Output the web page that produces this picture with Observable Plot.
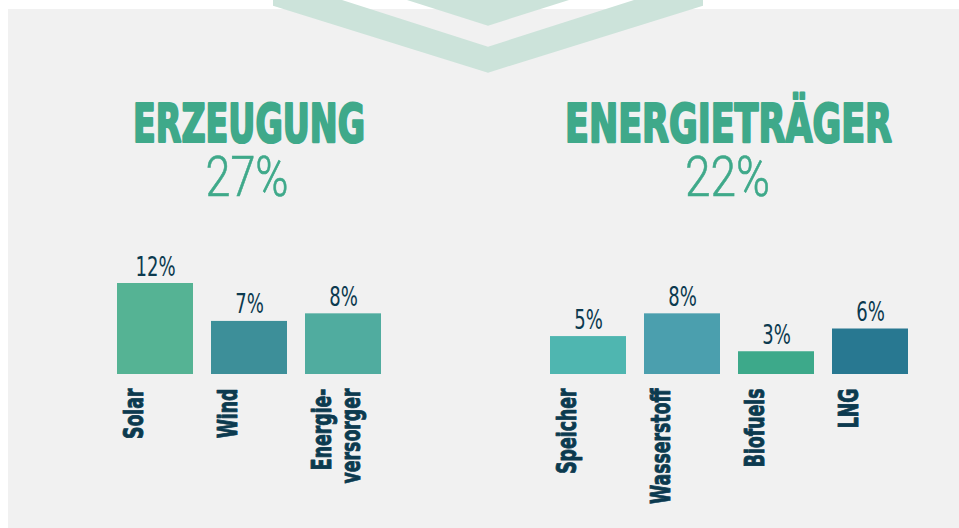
<!DOCTYPE html>
<html>
<head>
<meta charset="utf-8">
<script src="https://cdn.jsdelivr.net/npm/d3@7"></script>
<script src="https://cdn.jsdelivr.net/npm/@observablehq/plot@0.6"></script>
<style>
  html, body { margin: 0; padding: 0; background: #ffffff; }
  #root { position: relative; width: 959px; height: 528px; overflow: hidden; }
  #bg { position: absolute; left: 8px; top: 9px; right: 0; bottom: 0; background: #f1f1f1; }
  .layer { position: absolute; top: 0; }
  svg.plot, .layer svg { overflow: visible; }
</style>
</head>
<body>
<div id="root">
  <div id="bg"></div>
  <svg class="layer" id="chevron" width="959" height="100" style="left:0">
    <polygon points="273,0 342,0 488,46.7 634,0 703,0 703,5.7 488,72.7 273,5.7" fill="#cce3da"/>
    <polygon points="407,0 569,0 488,25.7" fill="#cce3da"/>
  </svg>
  <svg class="layer" id="titles" width="959" height="220" style="left:0"></svg>
  <div class="layer" id="left" style="left:0"></div>
  <div class="layer" id="right" style="left:480px"></div>
</div>
<script>
// ---- data ----
const groupTitles = ["ERZEUGUNG", "ENERGIETRÄGER"];
const groupTotals = ["27%", "22%"];

const erzeugungCategories = ["Solar", "Wind", "Energie-\nversorger"];
const erzeugungValues = [12, 7, 8];

const traegerCategories = ["Speicher", "Wasserstoff", "Biofuels", "LNG"];
const traegerValues = [5, 8, 3, 6];

// ---- styles ----
const erzeugungColors = ["#55b394", "#3d8f99", "#50ac9f"];
const traegerColors = ["#4fb6b0", "#4b9fae", "#3da98a", "#287891"];
const green = "#3fa98a";
const navy = "#0c3a4f";
const narrow = "'Liberation Sans Narrow', 'DejaVu Sans Condensed', 'Arial Narrow', sans-serif";

// ---- titles ----
const titleLayout = [
  {cx: 249, w: 232, tw: 83, tcx: 247},
  {cx: 728.5, w: 327, tw: 85, tcx: 727.5}
];
const tsvg = d3.select("#titles");
groupTitles.forEach((t, i) => {
  const L = titleLayout[i];
  tsvg.append("text")
    .attr("x", L.cx - L.w / 2).attr("y", 142)
    .attr("textLength", L.w).attr("lengthAdjust", "spacingAndGlyphs")
    .attr("font-family", narrow).attr("font-weight", "bold")
    .attr("font-size", 53).attr("fill", green)
    .attr("stroke", green).attr("stroke-width", 2.2).attr("stroke-linejoin", "round")
    .text(t);
  tsvg.append("text")
    .attr("x", L.tcx - L.tw / 2).attr("y", 196)
    .attr("textLength", L.tw).attr("lengthAdjust", "spacingAndGlyphs")
    .attr("font-family", "Roboto, 'Noto Sans', sans-serif").attr("font-weight", 300)
    .attr("font-size", 55).attr("fill", green)
    .attr("stroke", green).attr("stroke-width", 0.6)
    .text(groupTotals[i]);
});

// ---- bar charts ----
function barChart(categories, values, colors, opts) {
  const data = categories.map((c, i) => ({cat: c, value: values[i], color: colors[i]}));
  const svg = Plot.plot({
    width: opts.width,
    height: 528,
    marginLeft: opts.marginLeft,
    marginRight: opts.marginRight,
    marginTop: 283,
    marginBottom: 154,
    style: {background: "transparent", overflow: "visible"},
    x: {domain: categories, paddingInner: 0.195, paddingOuter: 0, axis: null},
    y: {domain: [0, 12], axis: null},
    color: {type: "identity"},
    marks: [
      Plot.barY(data, {x: "cat", y: "value", fill: "color", inset: 0}),
      Plot.text(data, {
        x: "cat", y: "value", text: d => d.value + "%",
        dy: -8, lineAnchor: "bottom",
        fontSize: 26, fontFamily: narrow, fill: navy
      }),
      Plot.text(data, {
        x: "cat", y: () => 0, text: "cat",
        rotate: -90, textAnchor: "end", lineAnchor: "top",
        dx: -32, dy: 14, lineHeight: 1.08,
        fontSize: 26, fontWeight: "bold", fontFamily: narrow, fill: navy,
        stroke: navy, strokeWidth: 0.9
      })
    ]
  });
  // condense glyphs along the reading direction
  d3.select(svg).selectAll("text").each(function () {
    const t = this.getAttribute("transform") || "";
    const s = t.includes("rotate") ? 0.74 : 0.77;
    this.setAttribute("transform", t + ` scale(${s},1)`);
  });
  return svg;
}

document.getElementById("left").appendChild(
  barChart(erzeugungCategories, erzeugungValues, erzeugungColors, {width: 480, marginLeft: 116, marginRight: 99})
);
document.getElementById("right").appendChild(
  barChart(traegerCategories, traegerValues, traegerColors, {width: 479, marginLeft: 69, marginRight: 51})
);
</script>
</body>
</html>
